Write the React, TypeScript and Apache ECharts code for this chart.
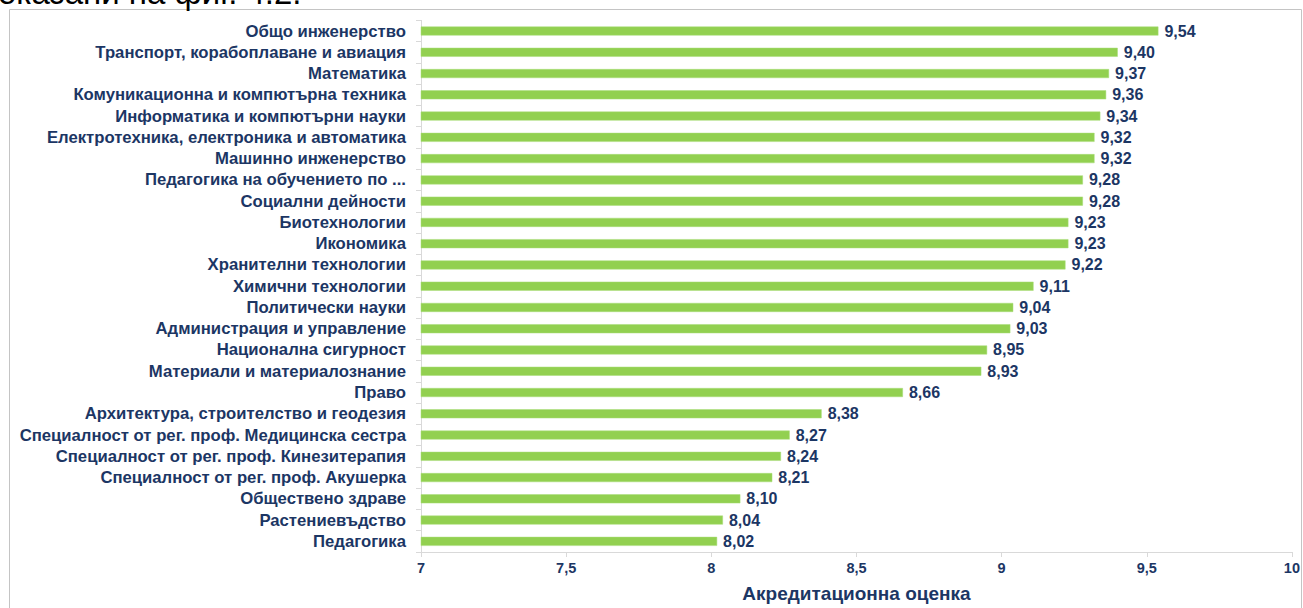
import React, { useEffect, useRef } from "react";
import * as echarts from "echarts";

const categories: string[] = [
  "Общо инженерство",
  "Транспорт, корабоплаване и авиация",
  "Математика",
  "Комуникационна и компютърна техника",
  "Информатика и компютърни науки",
  "Електротехника, електроника и автоматика",
  "Машинно инженерство",
  "Педагогика на обучението по ...",
  "Социални дейности",
  "Биотехнологии",
  "Икономика",
  "Хранителни технологии",
  "Химични технологии",
  "Политически науки",
  "Администрация и управление",
  "Национална сигурност",
  "Материали и материалознание",
  "Право",
  "Архитектура, строителство и геодезия",
  "Специалност от рег. проф. Медицинска сестра",
  "Специалност от рег. проф. Кинезитерапия",
  "Специалност от рег. проф. Акушерка",
  "Обществено здраве",
  "Растениевъдство",
  "Педагогика",
];

const scores: number[] = [
  9.54, 9.4, 9.37, 9.36, 9.34, 9.32, 9.32, 9.28, 9.28, 9.23, 9.23, 9.22, 9.11,
  9.04, 9.03, 8.95, 8.93, 8.66, 8.38, 8.27, 8.24, 8.21, 8.1, 8.04, 8.02,
];

const axisTitle = "Акредитационна оценка";
const headerText = "оказани на фиг. 4.2.";

const NAVY = "#1c3664";
const FONT = "'Liberation Sans', Arial, sans-serif";

export default function App() {
  const ref = useRef<HTMLDivElement>(null);
  useEffect(() => {
    const el = ref.current;
    if (!el) return;
    const W = el.clientWidth || 1303;
    const H = el.clientHeight || 608;
    const sx = W / 1303;
    const sy = H / 608;
    const f = (v: number) => v * sx;
    const chart = echarts.init(el, undefined, { renderer: "svg", width: W, height: H });
    chart.setOption({
      animation: false,
      backgroundColor: "#ffffff",
      textStyle: { fontFamily: FONT },
      graphic: [
        {
          type: "rect",
          shape: { x: 9.5 * sx, y: 9.5 * sy, width: 1292 * sx, height: 640 * sy },
          style: { fill: "none", stroke: "#c4c4c4", lineWidth: 1 },
          silent: true,
        },
        {
          type: "text",
          x: -2 * sx,
          y: 9 * sy,
          style: {
            text: headerText,
            fontSize: f(33),
            fontFamily: FONT,
            fill: "#000000",
            verticalAlign: "bottom",
          },
          silent: true,
        },
      ],
      grid: {
        left: 421 * sx,
        right: 5 * sx,
        top: 20.4 * sy,
        bottom: 55.4 * sy,
        containLabel: false,
      },
      xAxis: {
        type: "value",
        min: 7,
        max: 10,
        interval: 0.5,
        splitLine: { show: false },
        axisLine: { show: true, lineStyle: { color: "#d9d9d9", width: 1 } },
        axisTick: { show: true, length: 5, lineStyle: { color: "#d9d9d9" } },
        axisLabel: {
          color: NAVY,
          fontWeight: "bold",
          fontSize: f(14.5),
          fontFamily: FONT,
          margin: f(8),
          formatter: (v: number) => String(v).replace(".", ","),
        },
        name: axisTitle,
        nameLocation: "middle",
        nameGap: f(32),
        nameTextStyle: { color: NAVY, fontWeight: "bold", fontSize: f(19), fontFamily: FONT },
      },
      yAxis: {
        type: "category",
        data: categories,
        inverse: true,
        axisLine: { show: true, lineStyle: { color: "#d9d9d9", width: 1 } },
        axisTick: { show: true, length: 5, lineStyle: { color: "#d9d9d9" } },
        axisLabel: {
          color: NAVY,
          fontWeight: "bold",
          fontSize: f(16.7),
          fontFamily: FONT,
          margin: f(15),
          interval: 0,
        },
      },
      series: [
        {
          type: "bar",
          data: scores,
          barWidth: f(9),
          itemStyle: { color: "#92d050", borderColor: "#a9dc78", borderWidth: 0.5 },
          label: {
            show: true,
            position: "right",
            distance: f(6),
            color: NAVY,
            fontWeight: "bold",
            fontSize: f(16),
            fontFamily: FONT,
            formatter: (p: any) => Number(p.value).toFixed(2).replace(".", ","),
          },
        },
      ],
    });
    return () => chart.dispose();
  }, []);
  return (
    <div
      ref={ref}
      style={{ position: "fixed", left: 0, top: 0, width: "100vw", height: "100vh" }}
    />
  );
}
